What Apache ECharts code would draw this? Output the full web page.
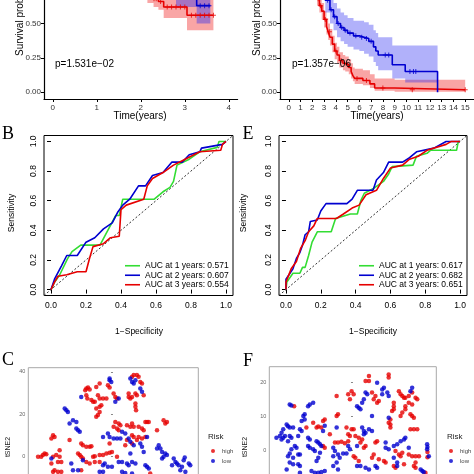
<!DOCTYPE html>
<html><head><meta charset="utf-8">
<script src="https://cdn.jsdelivr.net/npm/echarts@6/dist/echarts.min.js"></script>
<style>html,body{margin:0;padding:0;background:#fff}#c{width:474px;height:474px}</style>
</head><body><div id="c"></div>
<script>
// ---------- Panel A (KM, training) ----------
const kmA_high = [[0,1],[0.6,0.97],[1.1,0.94],[1.5,0.9],[1.8,0.84],[2.0,0.78],[2.15,0.73],[2.29,0.68],[2.4,0.66],[2.52,0.62],[3.05,0.56],[3.65,0.56]];
const kmA_highCI = [[0,1,1],[0.6,0.92,1],[1.1,0.87,1],[1.5,0.82,0.97],[1.8,0.75,0.93],[2.0,0.69,0.88],[2.15,0.65,0.84],[2.29,0.62,0.79],[2.4,0.6,0.77],[2.52,0.54,0.73],[3.05,0.45,0.68],[3.65,0.45,0.68]];
const kmA_low = [[0,1],[1.2,0.97],[2.2,0.9],[2.8,0.8],[3.27,0.63],[3.58,0.63]];
const kmA_lowCI = [[0,1,1],[1.2,0.9,1],[2.2,0.8,1],[2.8,0.62,0.97],[3.27,0.5,0.8],[3.58,0.5,0.8]];
const censA_high = [2.3,2.35,2.45,2.6,2.7,2.8,2.9,3.0,3.15,3.25,3.35,3.45,3.55,3.65];
const censA_low = [3.35,3.45,3.55];
const pA = "p=1.531e\u221202";
// ---------- Panel D (KM, validation) ----------
const kmD_high = [[0,1],[0.5,0.98],[1,0.95],[1.5,0.9],[2.0,0.8],[2.2,0.74],[2.4,0.68],[2.6,0.63],[2.8,0.59],[3.0,0.53],[3.2,0.48],[3.35,0.44],[3.5,0.4],[3.7,0.35],[3.9,0.3],[4.1,0.27],[4.3,0.23],[4.6,0.21],[4.8,0.2],[5.1,0.18],[5.3,0.15],[5.45,0.12],[5.6,0.1],[6.3,0.085],[6.9,0.06],[7.3,0.03],[9.0,0.017],[15,0.017]];
const kmD_highCI = [[0,1,1],[0.5,0.95,1],[1,0.92,0.98],[1.5,0.86,0.94],[2.0,0.75,0.86],[2.2,0.69,0.8],[2.4,0.63,0.74],[2.6,0.58,0.69],[2.8,0.53,0.65],[3.0,0.47,0.59],[3.2,0.42,0.54],[3.35,0.38,0.5],[3.5,0.34,0.46],[3.7,0.29,0.41],[3.9,0.24,0.36],[4.1,0.21,0.33],[4.3,0.18,0.29],[4.6,0.16,0.27],[4.8,0.15,0.26],[5.1,0.13,0.24],[5.3,0.1,0.21],[5.45,0.08,0.18],[5.6,0.06,0.17],[6.3,0.05,0.16],[6.9,0.03,0.13],[7.3,0.01,0.1],[9.0,0.003,0.09],[15,0.003,0.09]];
const kmD_low = [[0,1],[1,0.97],[2,0.88],[2.6,0.76],[3.1,0.67],[3.5,0.6],[3.8,0.55],[4.1,0.5],[4.4,0.47],[4.7,0.45],[5.0,0.43],[5.5,0.41],[6.0,0.4],[6.4,0.39],[6.8,0.37],[7.2,0.33],[7.4,0.3],[7.6,0.27],[8.8,0.2],[9.9,0.15],[12.65,0.0]];
const kmD_lowCI = [[0,1,1],[1,0.93,1],[2,0.82,0.94],[2.6,0.69,0.83],[3.1,0.58,0.76],[3.5,0.5,0.7],[3.8,0.45,0.65],[4.1,0.4,0.61],[4.4,0.37,0.58],[4.7,0.35,0.56],[5.0,0.33,0.54],[5.5,0.31,0.52],[6.0,0.3,0.52],[6.4,0.28,0.51],[6.8,0.26,0.49],[7.2,0.22,0.45],[7.4,0.19,0.43],[7.6,0.16,0.4],[8.8,0.1,0.34],[9.9,0.07,0.34],[12.65,0.07,0.34]];
const censD_high = [2.5,2.7,3.1,3.45,4.0,4.45,5.0,5.8,6.6,8.0,10.5,15.0];
const censD_low = [3.3,3.6,3.9,4.2,4.5,4.8,5.2,5.7,6.2,6.6,7.0,8.2,8.5,10.3,10.6,10.8];
const pD = "p=1.357e\u221206";
const timeTicksA = [0,1,2,3,4];
const timeTicksD = [0,1,2,3,4,5,6,7,8,9,10,11,12,13,14,15];
const survTicks = [0,0.25,0.5,0.75,1];
// ---------- Panel B (ROC, training) ----------
const rocB_1 = [[0,0],[0.02,0.05],[0.05,0.1],[0.094,0.207],[0.12,0.256],[0.17,0.3],[0.28,0.3],[0.32,0.39],[0.37,0.5],[0.39,0.5],[0.41,0.61],[0.59,0.61],[0.64,0.66],[0.68,0.69],[0.70,0.73],[0.72,0.84],[0.79,0.88],[0.85,0.93],[0.95,0.96],[0.96,1.0],[1,1]];
const rocB_2 = [[0,0],[0.02,0.07],[0.06,0.16],[0.09,0.23],[0.15,0.23],[0.2,0.32],[0.25,0.35],[0.3,0.41],[0.35,0.45],[0.38,0.52],[0.41,0.57],[0.45,0.61],[0.5,0.7],[0.54,0.7],[0.58,0.77],[0.64,0.79],[0.69,0.86],[0.75,0.86],[0.79,0.91],[0.85,0.93],[0.86,0.955],[0.98,0.98],[1,1]];
const rocB_3 = [[0,0],[0.02,0.05],[0.04,0.09],[0.09,0.1],[0.15,0.12],[0.2,0.12],[0.22,0.21],[0.24,0.29],[0.3,0.31],[0.34,0.35],[0.39,0.36],[0.4,0.54],[0.43,0.57],[0.53,0.61],[0.55,0.7],[0.58,0.75],[0.64,0.79],[0.7,0.84],[0.75,0.87],[0.85,0.93],[0.86,0.94],[0.97,0.94],[0.98,0.98],[1,1]];
const aucB = ["AUC at 1 years: 0.571","AUC at 2 years: 0.607","AUC at 3 years: 0.554"];
// ---------- Panel E (ROC, validation) ----------
const rocE_1 = [[0,0],[0.005,0.05],[0.04,0.11],[0.08,0.11],[0.095,0.15],[0.11,0.15],[0.13,0.23],[0.15,0.32],[0.18,0.39],[0.26,0.39],[0.285,0.48],[0.37,0.51],[0.41,0.51],[0.43,0.6],[0.45,0.65],[0.5,0.68],[0.56,0.73],[0.59,0.78],[0.61,0.83],[0.73,0.84],[0.75,0.9],[0.81,0.92],[0.83,0.94],[0.98,0.94],[0.99,1],[1,1]];
const rocE_2 = [[0,0],[0,0.07],[0.04,0.14],[0.06,0.21],[0.08,0.25],[0.095,0.3],[0.11,0.37],[0.13,0.39],[0.14,0.46],[0.18,0.47],[0.2,0.53],[0.23,0.58],[0.35,0.58],[0.38,0.61],[0.41,0.67],[0.5,0.67],[0.52,0.74],[0.56,0.79],[0.59,0.86],[0.67,0.86],[0.71,0.89],[0.75,0.93],[0.85,0.955],[0.92,1.0],[1,1]];
const rocE_3 = [[0,0],[0,0.05],[0.03,0.14],[0.06,0.19],[0.085,0.28],[0.11,0.33],[0.13,0.39],[0.16,0.43],[0.18,0.48],[0.29,0.48],[0.33,0.51],[0.38,0.55],[0.42,0.57],[0.46,0.64],[0.52,0.67],[0.56,0.75],[0.6,0.82],[0.67,0.84],[0.71,0.88],[0.76,0.9],[0.81,0.94],[0.92,0.98],[0.95,1.0],[1,1]];
const aucE = ["AUC at 1 years: 0.617","AUC at 2 years: 0.682","AUC at 3 years: 0.651"];
const rocTicks = [0,0.2,0.4,0.6,0.8,1];
// ---------- Panel C (tSNE, training) ----------
const tsneC_high = [[-12.6,32.2],[-13.1,31.4],[-11.8,32.6],[-11.0,31.7],[-7.9,32.9],[-6.3,34.5],[-2.4,33.7],[-1.6,32.6],[-12.6,29.0],[-12.1,27.4],[-10.2,26.7],[-9.4,25.9],[-7.1,29.0],[-6.3,27.4],[-4.7,27.4],[-3.1,27.4],[-8.6,25.9],[-7.9,22.7],[-6.3,23.5],[-5.5,24.3],[-7.9,18.8],[-7.1,19.6],[-6.3,21.1],[-28.3,10.1],[-27.6,9.3],[-29.1,8.5],[-20.5,7.8],[-15.0,6.2],[-14.2,5.4],[-12.6,4.6],[-11.0,4.6],[-10.2,4.9],[-25.2,3.0],[-26.8,0.7],[-28.3,-0.1],[-25.2,-0.1],[-35.4,-0.1],[-33.9,-0.1],[-33.1,0.7],[-32.3,1.5],[-31.5,1.1],[-29.1,-3.3],[-26.0,-2.5],[-24.4,-2.5],[-27.6,-6.4],[-26.0,-7.2],[-28.3,-7.2],[-24.4,-7.2],[-16.5,1.5],[-15.7,0.7],[-15.0,-0.1],[-14.2,-0.9],[-9.4,-0.1],[-8.6,0.2],[-6.3,0.7],[-4.7,0.7],[-3.1,1.5],[-1.6,1.8],[-12.6,-2.5],[-11.0,-3.3],[-8.6,-2.5],[-6.3,-2.5],[-1.6,6.2],[-15.0,-6.4],
[9.0,37.7],[9.8,38.5],[11.3,38.5],[12.1,37.7],[12.9,35.3],[13.7,34.5],[7.4,29.8],[8.2,27.4],[7.4,28.2],[9.0,28.2],[10.6,29.8],[11.3,29.0],[14.5,29.0],[1.1,28.2],[1.9,27.4],[0.3,29.8],[10.6,23.5],[10.9,21.9],[10.6,25.1],[1.1,16.4],[2.7,15.6],[3.5,14.8],[0.3,14.1],[1.9,13.3],[2.7,12.5],[6.6,14.8],[8.2,14.1],[9.0,15.6],[9.8,14.1],[12.1,14.1],[13.7,13.3],[14.5,12.5],[15.3,16.4],[16.1,16.4],[16.9,16.4],[23.9,17.2],[25.5,16.4],[24.7,15.6],[20.8,12.5],[9.0,10.1],[9.8,9.3],[12.1,9.3],[13.7,8.5],[15.3,9.3],[11.3,7.8],[9.0,6.2],[5.8,5.4],[6.6,7.8],[-0.5,2.2],[1.9,-0.1],[17.6,-8.0]];
const tsneC_low = [[-1.6,36.1],[-0.8,35.3],[-1.6,36.9],[-15.0,28.2],[-22.8,22.7],[-22.0,21.9],[-21.3,21.1],[-18.9,17.2],[-20.5,15.6],[-17.3,16.4],[-17.3,13.3],[-16.5,12.5],[-15.7,11.7],[-4.7,9.3],[-2.4,10.9],[-1.6,9.3],[-29.1,-0.9],[-19.7,-3.3],[-18.9,-6.4],[-16.5,-6.4],[-3.9,-3.3],[-2.4,-4.8],[-4.7,-4.1],[-6.3,-7.2],[-4.7,-7.2],[-14.2,-1.7],
[8.2,36.9],[9.0,35.3],[9.8,34.5],[10.6,36.1],[12.9,32.2],[13.7,30.6],[1.1,25.9],[2.7,27.4],[0.3,8.5],[1.9,8.5],[3.5,8.5],[4.3,11.7],[5.8,10.9],[7.4,8.5],[8.2,7.0],[9.8,5.4],[12.9,6.2],[13.7,4.6],[14.5,2.2],[16.1,9.3],[21.6,5.4],[22.4,3.8],[20.8,3.8],[23.2,2.2],[24.7,1.5],[25.5,0.7],[23.9,-0.1],[23.2,-0.9],[8.2,1.5],[9.0,-2.5],[7.4,-4.1],[6.6,-3.3],[4.3,-2.5],[2.7,-2.5],[10.6,-3.3],[-0.5,-4.8],[4.3,-7.2],[5.8,-7.7],[9.0,-8.0],[15.3,-4.1],[16.1,-4.8],[16.9,-5.6],[28.7,-0.9],[29.5,-2.5],[30.2,-3.3],[31.0,-4.1],[32.6,-4.8],[33.4,-1.7],[33.9,-0.4],[31.8,-6.4],[34.2,-7.2],[35.8,-3.3],[36.5,-4.1],[27.9,-4.1]];
const tsneCTicks = [0,20,40];
// ---------- Panel F (tSNE, validation) ----------
const tsneF_high = [[-17.3,13.1],[-4.8,16.1],[-1.4,16.6],[-0.4,17.5],[-0.9,15.1],[-4.8,10.2],[-4.4,10.7],[-8.3,9.2],[-8.8,8.7],[-11.7,8.2],[-10.7,6.8],[-10.2,7.1],[-9.3,6.8],[-13.7,6.8],[-6.8,4.8],[-5.3,2.4],[-4.4,2.4],[-3.4,2.6],[-2.4,2.2],[-1.4,2.8],[-1.4,4.8],[-0.9,4.3],[-0.4,6.3],[-1.9,6.8],[-8.3,0.9],[-8.8,1.4],
[10.5,22.4],[10.5,21.5],[4.7,22.0],[3.7,20.5],[4.7,20.5],[0.2,16.6],[5.6,17.1],[6.6,16.1],[6.1,15.1],[7.1,14.1],[7.6,14.6],[12.0,14.1],[12.0,13.1],[12.0,12.2],[11.5,11.7],[13.5,17.5],[14.0,16.6],[14.5,16.1],[15.0,15.6],[15.4,15.6],[16.4,16.1],[17.4,17.1],[18.4,15.6],[18.9,15.1],[16.4,14.1],[17.4,13.6],[15.4,13.1],[15.4,12.2],[14.5,11.2],[14.0,10.2],[16.9,10.7],[17.4,10.2],[17.9,9.7],[11.0,9.2],[11.0,7.7],[11.0,6.8],[10.5,8.2],[16.9,6.3],[17.9,6.3],[18.9,6.3],[0.7,4.3],[1.7,3.8],[2.7,3.3],[2.2,2.4],[3.2,0.9],[3.7,1.4],[0.2,6.3],[6.6,2.4],[7.1,2.8],[12.5,-0.1],[13.5,-1.1],[14.5,-0.6],[14.0,-1.6],[16.4,-1.1],[17.4,-1.6],[18.4,-1.6],[19.4,-1.6],[6.1,-1.1],[5.6,-2.1],[7.6,-2.5],[9.1,-3.0],[9.6,-3.5],[0.2,-1.6],[0.7,-2.1],[1.7,-3.0],[12.0,-4.5],[12.5,-5.0],[15.0,-4.0],[17.9,-4.5],[18.4,-5.0],[18.4,-3.5],[21.3,-6.5],[21.9,-0.4],[21.9,-1.9]];
const tsneF_low = [[-18.6,13.6],[-18.1,13.3],[-13.2,13.1],[-12.7,13.6],[-11.7,14.1],[-14.6,10.2],[-14.2,10.7],[-14.2,9.2],[-15.1,8.7],[-19.5,7.7],[-19.1,7.2],[-20.5,6.3],[-21.0,5.3],[-21.5,4.3],[-22.5,3.8],[-21.0,3.3],[-20.5,3.8],[-20.0,4.3],[-18.6,6.8],[-17.6,6.8],[-18.6,4.3],[-18.1,3.8],[-19.1,2.8],[-15.6,6.3],[-15.1,5.8],[-16.1,4.3],[-17.1,1.4],[-16.6,0.9],[-18.1,0.4],[-18.6,-0.8],[-19.1,-1.6],[-17.6,-2.1],[-16.1,-1.1],[-15.6,-1.1],[-13.2,3.8],[-12.7,3.3],[-13.2,1.4],[-12.7,0.9],[-10.7,2.8],[-10.2,2.4],[-9.7,1.9],[-9.3,1.4],[-11.7,0.4],[-11.2,-0.1],[-9.7,-0.6],[-10.2,-2.1],[-10.7,-3.0],[-8.3,7.3],[-8.8,5.8],[-4.8,6.8],[-5.8,0.9],[-5.3,-0.1],[-5.8,-1.6],[-4.4,-1.1],[-2.9,-0.8],[-1.9,-0.8],[-3.9,-2.1],[-4.8,-3.5],[-18.6,-3.5],[-17.6,-4.0],[-16.1,-4.0],[-15.6,-4.5],[-19.5,-5.5],[-15.6,-6.5],[-12.2,-6.0],[-11.2,-6.5],[-10.2,-6.5],[-9.3,-6.3],[-8.3,-6.0],[-5.8,-4.5],[-4.4,-5.5],[-1.4,1.4],[-0.9,0.4],
[7.1,20.0],[8.6,18.0],[9.1,18.5],[10.1,17.1],[10.5,16.1],[8.6,16.6],[3.7,17.1],[4.2,16.6],[1.2,13.1],[1.7,12.6],[2.2,12.2],[2.7,14.1],[3.2,15.1],[17.4,18.5],[16.9,17.5],[5.6,10.2],[10.5,9.7],[2.7,6.8],[3.2,5.8],[3.7,5.3],[4.7,6.3],[5.6,5.8],[3.2,4.8],[1.2,1.4],[9.6,2.4],[9.6,0.9],[10.5,0.4],[12.0,1.4],[13.0,1.9],[14.0,2.8],[15.0,3.3],[15.4,3.8],[21.8,1.9],[21.8,0.4],[22.3,-1.6],[6.6,-4.5],[7.1,-5.0],[4.7,-5.5],[1.2,-4.5],[2.2,-4.5],[3.7,-5.0],[12.0,-2.1],[13.0,-3.5],[13.0,-4.5],[19.9,-5.5],[20.4,-6.0],[20.8,-6.3],[16.4,0.9],[21.9,1.1]];
const tsneFTicks = [0,10,20];

// ---------- build ----------
const RED = '#e60000', BLUE = '#0000d0', GREEN = '#33dd33';
const SANS = 'Liberation Sans, Arial, sans-serif';
const SERIF = 'Liberation Serif, DejaVu Serif, serif';
const plusSym = 'path://M4,0H6V4H10V6H6V10H4V6H0V4H4Z';

function stepAt(curve, t){ let v = curve[0][1]; for (const p of curve){ if (p[0] <= t) v = p[1]; } return v; }

const series = [];
function km(gi, curve, ci, cens, color, bandColor, id){
  // confidence band: step-shaped polygon built from the CI rows via the axis scales
  series.push({type:'custom', name:id+'_band', xAxisIndex:gi, yAxisIndex:gi, silent:true, clip:true, z:1,
    data: ci, encode:{x:0, y:[1,2]},
    renderItem: function(params, api){
      if (params.dataIndex !== 0) return null;
      const up = [], lo = [];
      for (let i = 0; i < ci.length; i++){
        const t0 = ci[i][0], t1 = (i + 1 < ci.length) ? ci[i+1][0] : ci[i][0];
        up.push(api.coord([t0, ci[i][2]])); up.push(api.coord([t1, ci[i][2]]));
        lo.push(api.coord([t0, ci[i][1]])); lo.push(api.coord([t1, ci[i][1]]));
      }
      const pts = up.concat(lo.reverse());
      return {type:'polygon', shape:{points:pts}, style:{fill:bandColor}};
    }});
  series.push({type:'line', name:id+'_km', xAxisIndex:gi, yAxisIndex:gi, step:'end', symbol:'none', silent:true,
    lineStyle:{color:color, width:1.6}, data: curve, z:3});
  series.push({type:'scatter', name:id+'_cens', xAxisIndex:gi, yAxisIndex:gi, symbol:plusSym, symbolSize:5, silent:true,
    itemStyle:{color:color}, data: cens.map(t=>[t, stepAt(curve, t)]), z:4});
}
km(0, kmA_high, kmA_highCI, censA_high, RED, 'rgba(240,40,40,0.42)', 'Ah');
km(0, kmA_low, kmA_lowCI, censA_low, BLUE, 'rgba(40,40,240,0.4)', 'Al');
km(1, kmD_high, kmD_highCI, censD_high, RED, 'rgba(240,40,40,0.42)', 'Dh');
km(1, kmD_low, kmD_lowCI, censD_low, BLUE, 'rgba(40,40,240,0.36)', 'Dl');

function roc(gi, curves, names){
  const cols = [GREEN, BLUE, RED];
  series.push({type:'line', name:'diag'+gi, xAxisIndex:gi, yAxisIndex:gi, symbol:'none', silent:true,
    lineStyle:{color:'#333', width:1, type:[2,2]}, data:[[-0.04,-0.04],[1.04,1.04]], z:1});
  curves.forEach((c,i)=>series.push({type:'line', name:names[i], xAxisIndex:gi, yAxisIndex:gi, symbol:'none',
    lineStyle:{color:cols[i], width:1.6}, itemStyle:{color:cols[i]}, data:c, z:3}));
}
roc(2, [rocB_1, rocB_2, rocB_3], aucB);
roc(3, [rocE_1, rocE_2, rocE_3], aucE);

series.push({type:'scatter', name:'high', xAxisIndex:4, yAxisIndex:4, symbolSize:4.5, itemStyle:{color:RED}, data:tsneC_high});
series.push({type:'scatter', name:'low', xAxisIndex:4, yAxisIndex:4, symbolSize:4.5, itemStyle:{color:BLUE}, data:tsneC_low});
series.push({type:'scatter', name:'high', xAxisIndex:5, yAxisIndex:5, symbolSize:4.5, itemStyle:{color:RED}, data:tsneF_high});
series.push({type:'scatter', name:'low', xAxisIndex:5, yAxisIndex:5, symbolSize:4.5, itemStyle:{color:BLUE}, data:tsneF_low});

const G = {outerBoundsMode:'none', containLabel:false};
const grids = [
  Object.assign({left:44, top:-52, width:193.6, height:151}, G),
  Object.assign({left:280, top:-52, width:194, height:151}, G),
  Object.assign({left:44, top:135.5, width:189, height:160, show:true, borderColor:'#000', borderWidth:1}, G),
  Object.assign({left:279, top:135.5, width:188, height:160, show:true, borderColor:'#000', borderWidth:1}, G),
  Object.assign({left:28.3, top:367.7, width:170, height:152.4, show:true, borderColor:'#a8a8a8', borderWidth:1}, G),
  Object.assign({left:269.3, top:366.7, width:167, height:152, show:true, borderColor:'#a8a8a8', borderWidth:1}, G)
];

function kmX(gi, min, max, ticks){ return {gridIndex:gi, type:'value', min, max,
  axisLine:{show:true, onZero:false, lineStyle:{color:'#000', width:1.2}},
  axisTick:{show:true, length:3, customValues:ticks, lineStyle:{color:'#000'}},
  axisLabel:{customValues:ticks, interval:0, fontSize:8, color:'#333', margin:5, fontFamily:SANS},
  splitLine:{show:false}}; }
function kmY(gi){ return {gridIndex:gi, type:'value', min:-0.05, max:1.05,
  axisLine:{show:true, onZero:false, lineStyle:{color:'#000', width:1.2}},
  axisTick:{show:true, length:3, customValues:survTicks, lineStyle:{color:'#000'}},
  axisLabel:{customValues:survTicks, formatter:v=>v.toFixed(2), fontSize:8, color:'#333', margin:3, fontFamily:SANS},
  splitLine:{show:false}}; }
function rocAx(gi, isY){ return {gridIndex:gi, type:'value', min:-0.04, max:1.04,
  axisLine:{show:false}, axisTick:{show:true, length:4, customValues:rocTicks, lineStyle:{color:'#000'}},
  axisLabel:{customValues:rocTicks, formatter:v=>v.toFixed(1), fontSize:8.5, color:'#000', margin:isY?6:6, rotate:isY?90:0, fontFamily:SANS},
  splitLine:{show:false}}; }
function tsY(gi, min, max, ticks){ return {gridIndex:gi, type:'value', min, max,
  axisLine:{show:false}, axisTick:{show:true, length:2, customValues:ticks, lineStyle:{color:'#888'}},
  axisLabel:{customValues:ticks, fontSize:5.5, color:'#666', margin:3, fontFamily:SANS},
  splitLine:{show:false}}; }
function tsX(gi, min, max){ return {gridIndex:gi, type:'value', min, max, show:false, splitLine:{show:false}}; }

const xAxes = [kmX(0,-0.2,4.2,timeTicksA), kmX(1,-0.75,15.75,timeTicksD), rocAx(2,false), rocAx(3,false), tsX(4,-40,40.3), tsX(5,-24.6,24.5)];
const yAxes = [kmY(0), kmY(1), rocAx(2,true), rocAx(3,true), tsY(4,-30,42,tsneCTicks), tsY(5,-20,24.7,tsneFTicks)];

function txt(text, x, y, size, opts){ opts = opts||{};
  return {type:'text', x, y, rotation: opts.rot||0, silent:true, z:10,
    style:{text, x:0, y:0, fill:opts.color||'#000', font:(opts.weight||'normal')+' '+size+'px '+(opts.family||SANS),
      textAlign:opts.align||'center', textVerticalAlign:'middle'}}; }
const R90 = Math.PI/2;
const graphics = [
  txt('Survival probability', 20, 14, 10, {rot:R90}),
  txt('Survival probability', 257, 14, 10, {rot:R90}),
  txt('Time(years)', 140, 116, 10),
  txt('Time(years)', 377, 116, 10),
  txt(pA, 55, 64, 10, {align:'left'}),
  txt(pD, 292, 64, 10, {align:'left'}),
  txt('B', 8, 134, 18, {family:SERIF}),
  txt('E', 248, 134, 18, {family:SERIF}),
  txt('C', 8, 360, 18, {family:SERIF}),
  txt('F', 248, 361, 18, {family:SERIF}),
  txt('Sensitivity', 12, 213, 8.5, {rot:R90}),
  txt('Sensitivity', 244, 213, 8.5, {rot:R90}),
  txt('1\u2212Specificity', 139, 332, 8.5),
  txt('1\u2212Specificity', 373, 332, 8.5),
  txt('tSNE2', 8, 447, 7, {rot:R90, color:'#222'}),
  txt('tSNE2', 245, 447, 7, {rot:R90, color:'#222'}),
  txt('Risk', 208, 437, 8, {align:'left', color:'#222'}),
  txt('Risk', 447, 437, 8, {align:'left', color:'#222'})
];

function rocLegend(left, names){ return {left, top:261, orient:'vertical', data:names, icon:'rect', itemWidth:15, itemHeight:1.6, itemGap:0,
  padding:0, selectedMode:false, textStyle:{fontSize:8.5, color:'#000', fontFamily:SANS, lineHeight:9.5}}; }
function riskLegend(left){ return {left, top:448, orient:'vertical', data:['high','low'], icon:'circle', itemWidth:4, itemHeight:4, itemGap:4,
  padding:0, selectedMode:false, textStyle:{fontSize:6, color:'#444', fontFamily:SANS, padding:[0,0,0,2]}}; }

const chart = echarts.init(document.getElementById('c'), null, {renderer:'canvas'});
chart.setOption({
  animation:false, backgroundColor:'#fff',
  grid:grids, xAxis:xAxes, yAxis:yAxes, series,
  legend:[rocLegend(125,aucB), rocLegend(359,aucE), riskLegend(211), riskLegend(449)],
  graphic:graphics
});
</script></body></html>
